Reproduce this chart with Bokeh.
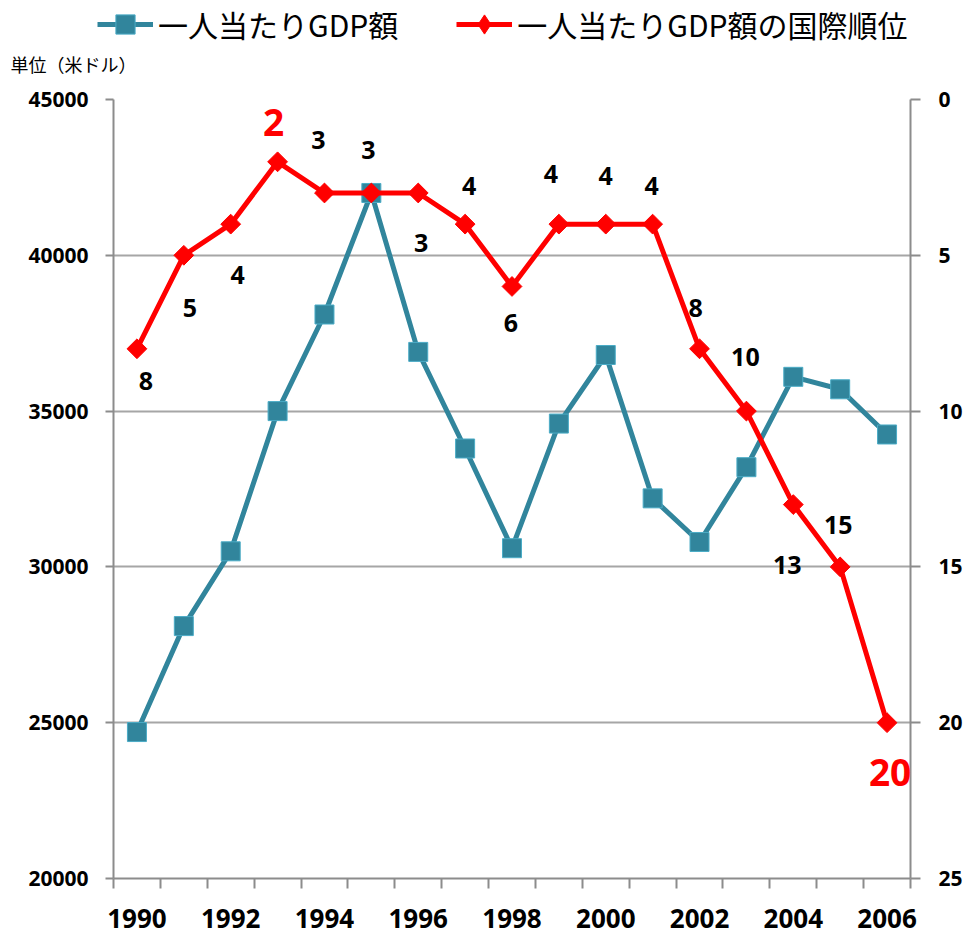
import math
from bokeh.plotting import figure
from bokeh.layouts import column
from bokeh.models import (Range1d, LinearAxis, FixedTicker, Legend, LegendItem,
                          Label, LabelSet, ColumnDataSource, BasicTickFormatter)
from bokeh.core.properties import value
from bokeh.embed import file_html
from bokeh.resources import INLINE

# ---- data ----
years = [1990, 1991, 1992, 1993, 1994, 1995, 1996, 1997, 1998,
         1999, 2000, 2001, 2002, 2003, 2004, 2005, 2006]
gdp_per_capita = [24700, 28100, 30500, 35000, 38100, 42000, 36900, 33800, 30600,
                  34600, 36800, 32200, 30800, 33200, 36100, 35700, 34250]
gdp_rank = [8, 5, 4, 2, 3, 3, 3, 4, 6, 4, 4, 4, 8, 10, 13, 15, 20]
year_ticks = [1990, 1992, 1994, 1996, 1998, 2000, 2002, 2004, 2006]
gdp_ticks = [20000, 25000, 30000, 35000, 40000, 45000]
rank_ticks = [0, 5, 10, 15, 20, 25]
series_names = ["一人当たりGDP額", "一人当たりGDP額の国際順位"]
unit_text = "単位（米ドル）"

# ---- label styling (pixel offsets from each point, screen y down) ----
label_dx = [9, 6, 7, -4, -6, -3, 3, 4, -1, -8, 0, -1, -4, -1, -6, -2, 3]
label_dy = [32, 53, 51, -39, -53, -43, 50, -38, 37, -50, -48, -38, -41, -54, 60, -42, 50]
label_color = ["black"] * 17
label_size = ["25px"] * 17
for i in (3, 16):
    label_color[i] = "#FF0000"
    label_size[i] = "37px"

BLUE = "#31859C"
BLUE_EDGE = "#4BACC6"
RED = "#FF0000"
GRAY = "#8C8C8C"
NUM_FONT = "Open Sans"
JP_FONT = "Noto Sans CJK JP"

HEADER_H = 84

# ================= main chart =================
p = figure(width=970, height=937 - HEADER_H, output_backend="svg", toolbar_location=None,
           x_range=Range1d(1989.5, 2006.5), y_range=Range1d(20000, 45000),
           min_border_left=113, min_border_right=60, min_border_top=99 - HEADER_H,
           min_border_bottom=59)
p.frame_align = False
p.extra_y_ranges = {"rank": Range1d(start=25, end=0)}
p.outline_line_color = None
p.background_fill_color = "white"
p.border_fill_color = "white"

# x axis
xa = p.xaxis[0]
xa.ticker = FixedTicker(ticks=year_ticks,
                        minor_ticks=[y - 0.5 for y in years] + [years[-1] + 0.5])
xa.formatter = BasicTickFormatter(use_scientific=False)
xa.axis_line_color = GRAY
xa.axis_line_width = 2
xa.major_tick_line_color = None
xa.major_tick_out = 0
xa.major_tick_in = 0
xa.minor_tick_line_color = GRAY
xa.minor_tick_line_width = 2
xa.minor_tick_out = 10
xa.minor_tick_in = 0
xa.major_label_standoff = 20
xa.major_label_text_font = NUM_FONT
xa.major_label_text_font_style = "bold"
xa.major_label_text_font_size = "26px"
xa.major_label_text_color = "black"

# left axis
ya = p.yaxis[0]
ya.ticker = FixedTicker(ticks=gdp_ticks)
ya.formatter = BasicTickFormatter(use_scientific=False)
ya.axis_line_color = GRAY
ya.axis_line_width = 2
ya.major_tick_line_color = GRAY
ya.major_tick_line_width = 2
ya.major_tick_out = 8
ya.major_tick_in = 0
ya.minor_tick_line_color = None
ya.major_label_standoff = 17
ya.major_label_text_font = NUM_FONT
ya.major_label_text_font_style = "bold"
ya.major_label_text_font_size = "21px"
ya.major_label_text_color = "black"

# right axis
ra = LinearAxis(y_range_name="rank", ticker=FixedTicker(ticks=rank_ticks))
ra.axis_line_color = GRAY
ra.axis_line_width = 2
ra.major_tick_line_color = GRAY
ra.major_tick_line_width = 2
ra.major_tick_out = 10
ra.major_tick_in = 0
ra.minor_tick_line_color = None
ra.major_label_standoff = 18
ra.major_label_text_font = NUM_FONT
ra.major_label_text_font_style = "bold"
ra.major_label_text_font_size = "21px"
ra.major_label_text_color = "black"
p.add_layout(ra, "right")

p.xgrid.grid_line_color = None
p.ygrid.ticker = FixedTicker(ticks=gdp_ticks)
p.ygrid.grid_line_color = "#A6A6A6"
p.ygrid.grid_line_width = 2

# series
p.line(years, gdp_per_capita, line_color=BLUE, line_width=5)
p.scatter(years, gdp_per_capita, marker="square", size=19,
          fill_color=BLUE, line_color=BLUE_EDGE, line_width=1)
p.line(years, gdp_rank, y_range_name="rank", line_color=RED, line_width=5)
p.scatter(years, gdp_rank, y_range_name="rank", marker="square", angle=math.pi / 4,
          size=14, fill_color=RED, line_color=RED)

# data labels
src = ColumnDataSource(dict(x=years, y=gdp_rank, t=[str(r) for r in gdp_rank],
                            dx=label_dx, dy=[-d for d in label_dy],
                            c=label_color, s=label_size))
labels = LabelSet(x="x", y="y", text="t", source=src, y_range_name="rank",
                  x_offset="dx", y_offset="dy", text_color="c", text_font_size="s",
                  text_font=value(NUM_FONT), text_font_style="bold",
                  text_align="center", text_baseline="middle")
p.add_layout(labels)

# ================= header strip: legend + unit =================
h = figure(width=970, height=HEADER_H, output_backend="svg", toolbar_location=None,
           x_range=Range1d(1989.5, 2006.5), y_range=Range1d(20000, 45000),
           x_axis_location=None, y_axis_location=None,
           min_border_left=0, min_border_right=0, min_border_top=0, min_border_bottom=0)
h.frame_align = False
h.extra_y_ranges = {"rank": Range1d(start=25, end=0)}
h.outline_line_color = None
h.grid.visible = False
h.border_fill_color = "white"
# swatch renderers for the legend (hidden; same series)
lb = h.line(years, gdp_per_capita, line_color=BLUE, line_width=5, visible=False)
sb = h.scatter(years, gdp_per_capita, marker="square", size=19,
               fill_color=BLUE, line_color=BLUE_EDGE, line_width=1, visible=False)
lr = h.line(years, gdp_rank, y_range_name="rank", line_color=RED, line_width=5,
            visible=False)
sr = h.scatter(years, gdp_rank, y_range_name="rank", marker="diamond", size=22,
               fill_color=RED, line_color=RED, visible=False)

legend = Legend(items=[LegendItem(label=series_names[0], renderers=[lb, sb]),
                       LegendItem(label=series_names[1], renderers=[lr, sr])],
                orientation="horizontal", location=(97, HEADER_H - 48),
                label_text_font=JP_FONT, label_text_font_size="30px",
                label_text_color="black",
                glyph_width=56, glyph_height=48, label_standoff=5, spacing=58,
                padding=0, margin=0, border_line_color=None,
                background_fill_alpha=0)
h.add_layout(legend)

unit = Label(x=10, y=HEADER_H - 63, x_units="screen", y_units="screen", text=unit_text,
             text_font=JP_FONT, text_font_size="18px", text_color="black",
             text_baseline="middle", text_align="left")
h.add_layout(unit)

layout = column(h, p, spacing=0)
open("out.html", "w").write(file_html(layout, INLINE))
